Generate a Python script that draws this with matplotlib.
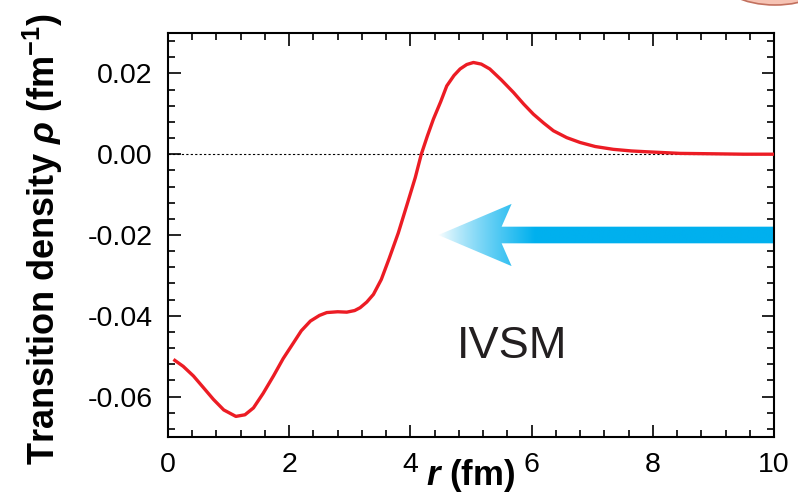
"""Transition density of the IVSM mode versus radius."""

import matplotlib
matplotlib.use("Agg")
import matplotlib.pyplot as plt
import numpy as np
from matplotlib.patches import Ellipse, Polygon
from matplotlib.ticker import MultipleLocator, FormatStrFormatter


R_FM = [0.09, 0.25, 0.42, 0.58, 0.75, 0.92, 1.12, 1.27, 1.41, 1.57, 1.74, 1.90,
        2.07, 2.20, 2.35, 2.50, 2.62, 2.80, 2.95, 3.08, 3.17, 3.28, 3.39, 3.52,
        3.65, 3.80, 3.95, 4.08, 4.18, 4.28, 4.38, 4.50, 4.60, 4.72, 4.82, 4.93,
        5.04, 5.17, 5.31, 5.50, 5.70, 5.87, 6.03, 6.20, 6.36, 6.58, 6.80, 7.05,
        7.35, 7.65, 7.90, 8.45, 9.00, 9.50, 10.0]
RHO = [-0.0508, -0.0525, -0.0549, -0.0577, -0.0607, -0.0633, -0.0649, -0.0645,
       -0.0628, -0.0592, -0.0549, -0.0506, -0.0467, -0.0437, -0.0413, -0.0399,
       -0.0392, -0.0390, -0.0391, -0.0387, -0.0380, -0.0366, -0.0347, -0.0310,
       -0.0258, -0.0195, -0.0122, -0.0058, 0.0, 0.0045, 0.0087, 0.0130, 0.0169,
       0.0195, 0.0211, 0.0222, 0.0227, 0.0223, 0.0211, 0.0184, 0.0153, 0.0124,
       0.0099, 0.0077, 0.0058, 0.0041, 0.0029, 0.0019, 0.0012, 0.0008, 0.0006,
       0.0002, 0.0001, 0.0, 0.0]

X_TICKS = [0, 2, 4, 6, 8, 10]
Y_TICKS = [-0.06, -0.04, -0.02, 0.00, 0.02]

RED = "#ec1c24"
CYAN = "#00b0ee"
INK = "#231f20"

plt.rcParams.update({
    "font.family": ["Liberation Sans", "DejaVu Sans"],
    "mathtext.fontset": "custom",
    "mathtext.rm": "Liberation Sans:bold",
    "mathtext.it": "Liberation Sans:italic:bold",
    "mathtext.bf": "Liberation Sans:bold",
})

W, H = 798, 494
fig = plt.figure(figsize=(W / 100, H / 100), dpi=100)
ax = fig.add_axes([168 / W, 1 - 437 / H, 606 / W, 404 / H])

ax.axhline(0, color="black", linewidth=0.8, linestyle=(0, (2, 2)), zorder=1)
ax.plot(R_FM, RHO, color=RED, linewidth=2.4, zorder=3, solid_capstyle="butt")

# left-pointing arrow with a fading head
tip, notch, back = 4.46, 5.505, 5.67
yc, head, shaft = -0.02, 0.0077, 0.00206
arrow = Polygon([(tip, yc), (back, yc + head), (notch, yc + shaft), (10.2, yc + shaft),
                 (10.2, yc - shaft), (notch, yc - shaft), (back, yc - head)],
                closed=True, facecolor="none", edgecolor="none")
ax.add_patch(arrow)
xs = np.linspace(0, 1, 400)
fade = np.clip((xs * 5.74) / 1.6, 0, 1) ** 0.8
base = np.array(matplotlib.colors.to_rgb(CYAN))
rgb = 1 - fade[:, None] * (1 - base)
img = np.tile(rgb[None, :, :], (2, 1, 1))
im = ax.imshow(img, extent=[tip, 10.2, yc - head, yc + head], aspect="auto",
               interpolation="bilinear", zorder=2)
im.set_clip_path(arrow)

ax.text(5.68, -0.0476, "IVSM", fontsize=32.5, color=INK, ha="center", va="center")

ax.set_xlim(0, 10)
ax.set_ylim(-0.07, 0.03)
ax.set_xticks(X_TICKS)
ax.set_yticks(Y_TICKS)
ax.yaxis.set_major_formatter(FormatStrFormatter("%.2f"))
ax.xaxis.set_minor_locator(MultipleLocator(0.4))
ax.yaxis.set_minor_locator(MultipleLocator(0.004))
ax.tick_params(which="both", direction="in", top=True, right=True, width=1.2,
               labelsize=20.5, colors="black", pad=11)
ax.tick_params(which="major", length=9)
ax.tick_params(which="minor", length=5)
for spine in ax.spines.values():
    spine.set_linewidth(1.5)

ax.set_xlabel(r"$r$ (fm)", fontsize=25, fontweight="bold", va="top")
ax.xaxis.set_label_coords(0.5, -0.05)
fig.text(43 / W, 1 - 465 / H, r"Transition density $\rho$ (fm$^{-1}$)", fontsize=26,
         fontweight="bold", rotation=90, ha="center", va="bottom")

fig.patches.append(Ellipse((775 / W, 1 + 25 / H), 116 / W, 60 / H,
                           transform=fig.transFigure, facecolor="#f6c3b4",
                           edgecolor="#c2705e", linewidth=1.2, figure=fig))

fig.savefig("out.png", dpi=100, facecolor="white")
